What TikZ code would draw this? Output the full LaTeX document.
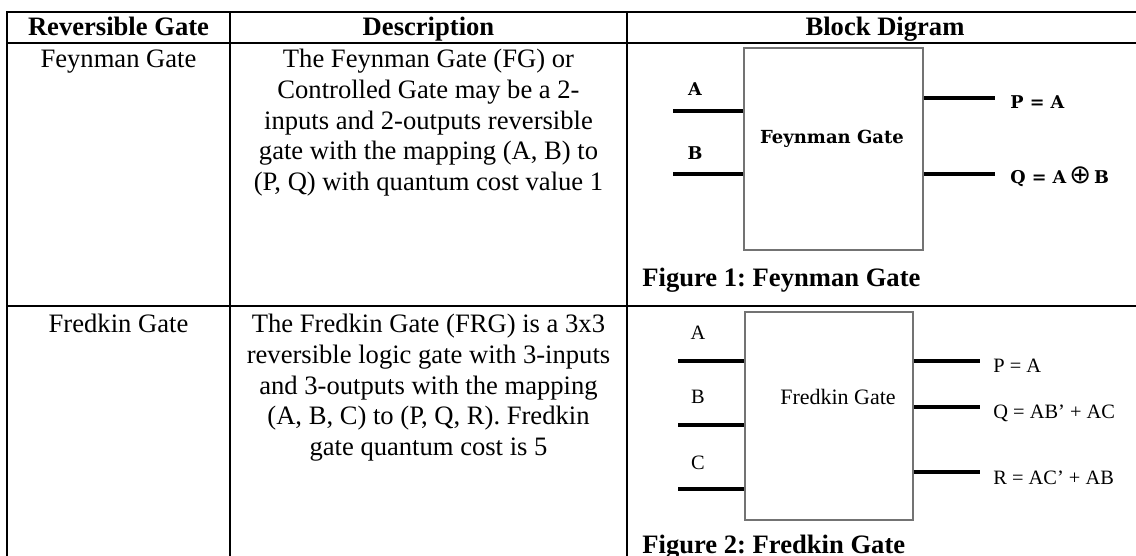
\documentclass[tikz,border=0pt]{standalone}
\usepackage{fontspec}
\setmainfont{Liberation Serif}
\newfontfamily\gatefont{DejaVu Serif}
\newfontfamily\symbfont{DejaVu Sans}
\usetikzlibrary{positioning}
\frenchspacing

\begin{document}
\begin{tikzpicture}[
    x=0.5pt, y=-0.5pt,
    rule/.style={line width=1pt, black},
    cell/.style={font=\fontsize{13.3}{15.35}\selectfont, align=center, inner sep=0pt, anchor=north},
    head/.style={font=\fontsize{13.3}{15.35}\selectfont\bfseries, inner sep=0pt, anchor=base},
    caption/.style={font=\fontsize{13.3}{15.35}\selectfont\bfseries, inner sep=0pt, anchor=base west},
    gatebox/.style={draw=black!55, line width=0.9pt, inner sep=0pt},
    wire/.style={line width=1.8pt, black},
    fgname/.style={font=\gatefont\bfseries\fontsize{9}{10}\selectfont, inner sep=0pt},
    fgpin/.style={font=\gatefont\bfseries\fontsize{8.8}{10}\selectfont, inner sep=0pt},
    frname/.style={font=\fontsize{11}{12}\selectfont, inner sep=0pt},
    frpin/.style={font=\fontsize{10.2}{12}\selectfont, inner sep=0pt},
]
\useasboundingbox (0,0) rectangle (1136,556);

% --- Table rules ---
\draw[rule] (6.5,12) -- (1140,12);
\draw[rule] (6.5,43) -- (1140,43);
\draw[rule] (6.5,306) -- (1140,306);
\foreach \x in {7,230,627}
    \draw[rule] (\x,11.5) -- (\x,560);

% --- Header row ---
\node[head] (hgate) at (118.5,36) {Reversible Gate};
\node[head] (hdesc) at (428.5,36) {Description};
\node[head] (hblock) at (885,36) {Block Digram};

% --- Row 1: Feynman ---
\node[cell] (fgcol) at (118.5,49) {Feynman Gate};
\node[cell] (fgdesc) at (428.5,49) {The Feynman Gate (FG) or\\
    Controlled Gate may be a 2-\\
    inputs and 2-outputs reversible\\
    gate with the mapping (A, B) to\\
    (P, Q) with quantum cost value 1};

% --- Row 2: Fredkin ---
\node[cell] (frcol) at (118.5,314) {Fredkin Gate};
\node[cell] (frdesc) at (428.5,314) {The Fredkin Gate (FRG) is a 3x3\\
    reversible logic gate with 3-inputs\\
    and 3-outputs with the mapping\\
    (A, B, C) to (P, Q, R). Fredkin\\
    gate quantum cost is 5};

% --- Feynman gate block ---
\node[gatebox, minimum width=89.5pt, minimum height=101pt] (fgbox) at (833.5,149) {};
\node[fgname] (fgtxt) at (832,139) {Feynman Gate};
\coordinate (fgA) at (673,111);
\coordinate (fgB) at (673,174);
\coordinate (fgP) at (995,98);
\coordinate (fgQ) at (995,174);
\draw[wire] (fgA) -- (fgA -| fgbox.west);
\draw[wire] (fgB) -- (fgB -| fgbox.west);
\draw[wire] (fgP -| fgbox.east) -- (fgP);
\draw[wire] (fgQ -| fgbox.east) -- (fgQ);
\node[fgpin] (fgAl) at (695,89) {A};
\node[fgpin] (fgBl) at (695,153) {B};
\node[fgpin, anchor=west, right=7.5pt of fgP, yshift=-2pt] (fgPl) {P = A};
\node[fgpin, anchor=west, right=7.5pt of fgQ, yshift=-1.5pt] (fgQl) {Q = A\,{\symbfont\mdseries\fontsize{13}{13}\selectfont ⊕}\,B};
\node[caption] (fgcap) at (642,286) {Figure 1: Feynman Gate};

% --- Fredkin gate block ---
\node[gatebox, minimum width=84pt, minimum height=104pt] (frbox) at (829,416) {};
\node[frname] (frtxt) at (838,397) {Fredkin Gate};
\coordinate (frA) at (678,361);
\coordinate (frB) at (678,425);
\coordinate (frC) at (678,489);
\coordinate (frP) at (980,361);
\coordinate (frQ) at (980,407);
\coordinate (frR) at (980,472);
\foreach \p in {frA,frB,frC}
    \draw[wire] (\p) -- (\p -| frbox.west);
\foreach \p in {frP,frQ,frR}
    \draw[wire] (\p -| frbox.east) -- (\p);
\node[frpin] (frAl) at (698,333) {A};
\node[frpin] (frBl) at (698,397) {B};
\node[frpin] (frCl) at (698,463) {C};
\node[frpin, anchor=west, right=6.5pt of frP, yshift=-2.5pt] (frPl) {P = A};
\node[frpin, anchor=west, right=6.5pt of frQ, yshift=-3pt] (frQl) {Q = AB’ + AC};
\node[frpin, anchor=west, right=6.5pt of frR, yshift=-3pt] (frRl) {R = AC’ + AB};
\node[caption] (frcap) at (642,553) {Figure 2: Fredkin Gate};

\end{tikzpicture}
\end{document}
